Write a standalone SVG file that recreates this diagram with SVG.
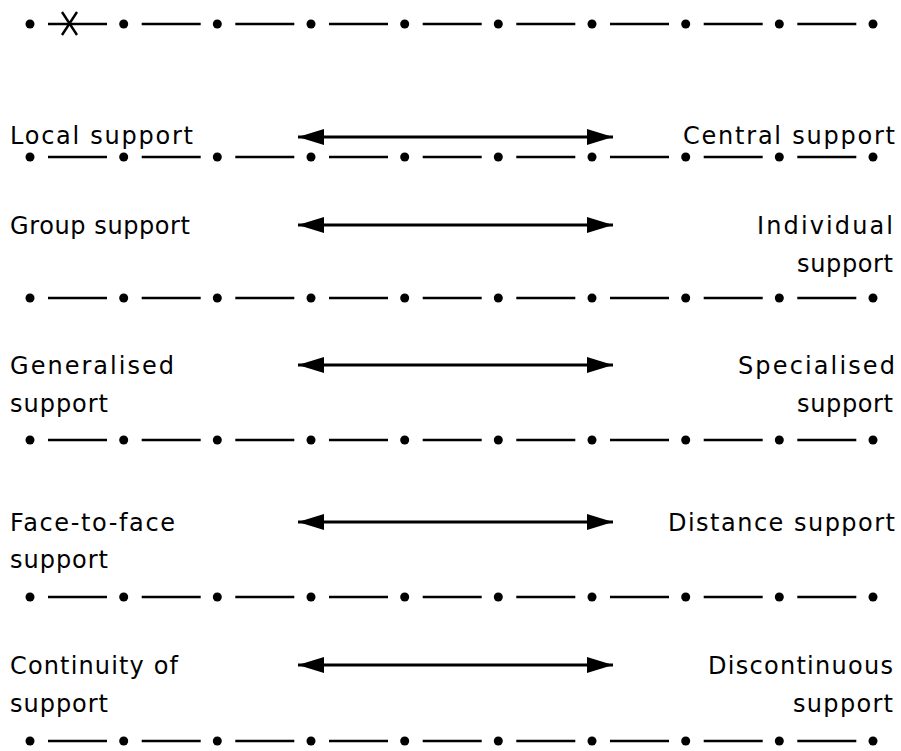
<svg xmlns="http://www.w3.org/2000/svg" xmlns:xlink="http://www.w3.org/1999/xlink" width="901" height="751" viewBox="0 0 901 751">
<style>
text{font-family:"DejaVu Sans","Liberation Sans",sans-serif;font-size:24px;fill:#000}
.r{text-anchor:end}
.dash{stroke:#000;stroke-width:2.6;fill:none}
.arrow{stroke:#000;stroke-width:2.8;fill:none;marker-start:url(#ah);marker-end:url(#ah)}
</style>
<defs>
<marker id="ah" markerUnits="userSpaceOnUse" markerWidth="28" markerHeight="18" refX="26" refY="8" orient="auto-start-reverse">
<path d="M0,0 L26,8 L0,16 Z" fill="#000"/>
</marker>
<g id="scale">
<circle cx="30" cy="0" r="4.5"/><circle cx="123.7" cy="0" r="4.5"/><circle cx="217.3" cy="0" r="4.5"/><circle cx="311" cy="0" r="4.5"/><circle cx="404.7" cy="0" r="4.5"/><circle cx="498.3" cy="0" r="4.5"/><circle cx="592" cy="0" r="4.5"/><circle cx="685.7" cy="0" r="4.5"/><circle cx="779.3" cy="0" r="4.5"/><circle cx="873" cy="0" r="4.5"/>
<path class="dash" d="M48,0H107 M141.7,0H200.7 M235.3,0H294.3 M329,0H388 M422.7,0H481.7 M516.3,0H575.3 M610,0H669 M703.7,0H762.7 M797.3,0H856.3"/>
</g>
</defs>
<g id="scale1"><use xlink:href="#scale" href="#scale" y="24"/>
<path d="M62,12 L77,35 M77,12 L62,35" stroke="#000" stroke-width="2.4" fill="none"/></g>
<g id="scale2"><use xlink:href="#scale" href="#scale" y="157"/></g>
<g id="scale3"><use xlink:href="#scale" href="#scale" y="298"/></g>
<g id="scale4"><use xlink:href="#scale" href="#scale" y="440"/></g>
<g id="scale5"><use xlink:href="#scale" href="#scale" y="597"/></g>
<g id="scale6"><use xlink:href="#scale" href="#scale" y="741"/></g>

<g id="local"><text x="10" y="144" textLength="183" lengthAdjust="spacing">Local support</text></g>
<g id="central"><text class="r" x="895" y="144" textLength="212" lengthAdjust="spacing">Central support</text></g>
<g id="group"><text x="10" y="234" textLength="180" lengthAdjust="spacing">Group support</text></g>
<g id="individual"><text class="r" x="893" y="234" textLength="136" lengthAdjust="spacing">Individual</text><text class="r" x="893" y="272" textLength="96" lengthAdjust="spacing">support</text></g>
<g id="generalised"><text x="10" y="374" textLength="164" lengthAdjust="spacing">Generalised</text><text x="10" y="412" textLength="98" lengthAdjust="spacing">support</text></g>
<g id="specialised"><text class="r" x="895" y="374" textLength="157" lengthAdjust="spacing">Specialised</text><text class="r" x="893" y="412" textLength="96" lengthAdjust="spacing">support</text></g>
<g id="facetoface"><text x="10" y="531" textLength="165" lengthAdjust="spacing">Face-to-face</text><text x="10" y="568" textLength="98" lengthAdjust="spacing">support</text></g>
<g id="distance"><text class="r" x="895" y="531" textLength="227" lengthAdjust="spacing">Distance support</text></g>
<g id="continuity"><text x="10" y="674" textLength="168" lengthAdjust="spacing">Continuity of</text><text x="10" y="712" textLength="98" lengthAdjust="spacing">support</text></g>
<g id="discontinuous"><text class="r" x="893" y="674" textLength="185" lengthAdjust="spacing">Discontinuous</text><text class="r" x="893" y="712" textLength="100" lengthAdjust="spacing">support</text></g>

<g id="connectors">
<line class="arrow" x1="298" y1="137" x2="613" y2="137"/>
<line class="arrow" x1="298" y1="225" x2="613" y2="225"/>
<line class="arrow" x1="298" y1="365" x2="613" y2="365"/>
<line class="arrow" x1="298" y1="522" x2="613" y2="522"/>
<line class="arrow" x1="298" y1="665" x2="613" y2="665"/>
</g>
</svg>
